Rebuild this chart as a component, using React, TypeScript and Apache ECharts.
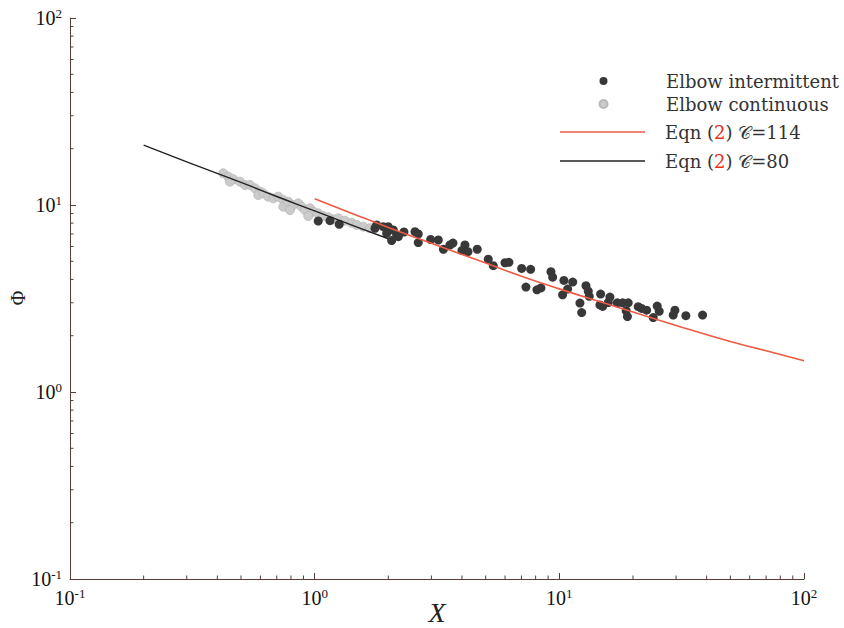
import React, { useEffect, useRef } from 'react';
import * as echarts from 'echarts';

// Elbow intermittent (dark points)
const intermittentX = [1.034, 1.155, 1.26, 1.792, 1.764, 1.907, 1.999, 2.096, 1.969, 2.163, 2.064, 2.196, 2.317, 2.571, 2.651, 2.651, 2.979, 3.201, 3.36, 3.572, 3.675, 4.0, 4.114, 4.232, 4.618, 5.122, 5.37, 5.996, 6.223, 7.015, 7.634, 7.303, 8.1, 8.411, 9.24, 9.39, 10.44, 11.34, 10.81, 10.31, 12.14, 12.34, 12.85, 13.13, 13.25, 14.75, 14.65, 15.03, 15.85, 16.1, 17.25, 18.15, 19.12, 18.76, 18.98, 21.01, 21.69, 22.74, 24.2, 25.12, 25.6, 29.68, 29.2, 32.9, 38.5];
const intermittentY = [8.21, 8.24, 7.89, 7.82, 7.51, 7.66, 7.66, 7.35, 7.06, 6.91, 6.45, 6.77, 7.17, 7.2, 7.0, 6.3, 6.54, 6.5, 5.8, 6.11, 6.26, 5.71, 6.11, 5.63, 5.8, 5.13, 4.74, 4.91, 4.94, 4.58, 4.53, 3.64, 3.52, 3.6, 4.4, 4.11, 3.95, 3.87, 3.55, 3.31, 2.99, 2.66, 3.7, 3.46, 3.25, 3.34, 2.92, 2.87, 3.01, 3.22, 3.0, 3.0, 3.0, 2.72, 2.53, 2.86, 2.8, 2.74, 2.5, 2.88, 2.7, 2.74, 2.58, 2.56, 2.58];

// Elbow continuous (light grey points)
const continuousX = [0.423, 0.4435, 0.4649, 0.4506, 0.4952, 0.519, 0.544, 0.5702, 0.5976, 0.5882, 0.6165, 0.6461, 0.6772, 0.7098, 0.7444, 0.7444, 0.78, 0.8176, 0.7926, 0.857, 0.8849, 0.9128, 0.9567, 0.987, 0.9415, 1.034, 1.084, 1.137, 1.191, 1.249, 1.33, 1.416, 1.485, 1.58, 1.683];
const continuousY = [14.77, 14.17, 13.74, 13.32, 13.32, 12.79, 12.79, 12.28, 11.78, 11.31, 11.55, 11.08, 10.86, 11.08, 10.63, 9.79, 10.41, 10.0, 9.4, 10.21, 9.79, 9.4, 9.6, 9.21, 8.73, 9.03, 8.73, 8.6, 8.39, 8.49, 8.24, 8.04, 7.82, 7.66, 7.51];

// Eqn (2) C=114 (red curve)
const eqn114X = [1, 1.5, 2, 3, 5, 7, 10, 15, 20, 30, 50, 70, 100];
const eqn114Y = [10.8, 8.77, 7.59, 6.24, 4.89, 4.16, 3.56, 3.01, 2.68, 2.27, 1.86, 1.66, 1.47];

// Eqn (2) C=80 (black curve)
const eqn80X = [0.2, 0.3, 0.5, 0.7, 1, 1.5, 2];
const eqn80Y = [20.9, 17.0, 13.2, 11.1, 9.3, 7.6, 6.6];

// Minor tick values on both log axes
const minorTicks = [0.2, 0.3, 0.4, 0.5, 0.6, 0.7, 0.8, 0.9, 2, 3, 4, 5, 6, 7, 8, 9, 20, 30, 40, 50, 60, 70, 80, 90];

const AXIS_MIN = 0.1;
const AXIS_MAX = 100;

const xAxisName = 'X';
const yAxisName = 'Φ';
const legendNames = ['Elbow intermittent', 'Elbow continuous', 'Eqn (2) 𝒞=114', 'Eqn (2) 𝒞=80'];

const axisColor = '#5a3b35';
const serif = "'Liberation Serif', 'DejaVu Serif', serif";
const legendFont = "'DejaVu Serif', 'Liberation Serif', serif";

const dotIcon = 'path://M0,0M85,8M38.5,4a4,4 0 1,0 8,0a4,4 0 1,0 -8,0z';
const lineIcon = 'path://M0,0L85,0L85,1.6L0,1.6z';

const zip = (xs: number[], ys: number[]) => xs.map((x, i) => [x, ys[i]]);

const expLabel = (v: number) => {
  const e = Math.round(Math.log10(v));
  return `10{s|${e}}`;
};

const axisLabelStyle = {
  margin: 8,
  formatter: expLabel,
  fontSize: 20,
  fontFamily: serif,
  color: '#111',
  lineHeight: 22,
  rich: {
    s: { fontSize: 13, fontFamily: serif, color: '#111', verticalAlign: 'top' as const, lineHeight: 13 },
  },
};

export default function App() {
  const ref = useRef<HTMLDivElement>(null);
  useEffect(() => {
    const chart = echarts.init(ref.current!, null, { renderer: 'svg' });
    const legendText = {
      fontFamily: legendFont,
      fontSize: 18,
      color: '#333',
      lineHeight: 20,
      padding: [0, 0, 0, 15],
      rich: {
        r: { fontFamily: legendFont, fontSize: 18, color: '#e8321e', lineHeight: 20 },
      },
    };
    const fmt = (name: string) => name.replace('(2)', '({r|2})');
    chart.setOption({
      animation: false,
      backgroundColor: '#fff',
      grid: { left: 70, right: 40, top: 18, bottom: 49, containLabel: false, outerBoundsMode: 'none' },
      graphic: [
        {
          type: 'text',
          x: 437,
          y: 612,
          style: {
            text: xAxisName,
            fontFamily: serif,
            fontStyle: 'italic',
            fontSize: 28,
            fill: '#222',
            align: 'center',
            verticalAlign: 'middle',
          },
        },
        {
          type: 'text',
          x: 18,
          y: 298,
          rotation: Math.PI / 2,
          style: {
            text: yAxisName,
            fontFamily: serif,
            fontSize: 20,
            fill: '#222',
            align: 'center',
            verticalAlign: 'middle',
          },
        },
      ],
      legend: [
        {
          data: [
            { name: legendNames[0], icon: dotIcon },
            { name: legendNames[1], icon: dotIcon },
          ],
          orient: 'vertical',
          left: 560,
          top: 71,
          padding: 0,
          itemWidth: 85,
          itemHeight: 8,
          itemGap: 3,
          symbolKeepAspect: false,
          selectedMode: false,
          textStyle: legendText,
          formatter: fmt,
        },
        {
          data: [
            { name: legendNames[2], icon: lineIcon },
            { name: legendNames[3], icon: lineIcon },
          ],
          orient: 'vertical',
          left: 560,
          top: 122,
          padding: 0,
          itemWidth: 85,
          itemHeight: 1.6,
          itemGap: 9,
          symbolKeepAspect: false,
          selectedMode: false,
          textStyle: legendText,
          formatter: fmt,
        },
      ],
      xAxis: {
        type: 'log',
        logBase: 10,
        min: AXIS_MIN,
        max: AXIS_MAX,
        axisLine: { show: true, lineStyle: { color: axisColor, width: 1 } },
        axisTick: { show: true, inside: true, length: 6, lineStyle: { color: axisColor } },
        axisLabel: axisLabelStyle,
        splitLine: { show: false },
      },
      yAxis: {
        type: 'log',
        logBase: 10,
        min: AXIS_MIN,
        max: AXIS_MAX,
        axisLine: { show: true, lineStyle: { color: axisColor, width: 1 } },
        axisTick: { show: true, inside: true, length: 6, lineStyle: { color: axisColor } },
        axisLabel: axisLabelStyle,
        splitLine: { show: false },
      },
      series: [
        {
          type: 'custom',
          name: 'xminor',
          silent: true,
          clip: false,
          data: minorTicks.map((v) => [v, AXIS_MIN]),
          renderItem: (params: any, api: any) => {
            const p = api.coord([api.value(0), AXIS_MIN]);
            return {
              type: 'line',
              shape: { x1: p[0], y1: p[1], x2: p[0], y2: p[1] - 3.5 },
              style: { stroke: axisColor, lineWidth: 1 },
            };
          },
        },
        {
          type: 'custom',
          name: 'yminor',
          silent: true,
          clip: false,
          data: minorTicks.map((v) => [AXIS_MIN, v]),
          renderItem: (params: any, api: any) => {
            const p = api.coord([AXIS_MIN, api.value(1)]);
            return {
              type: 'line',
              shape: { x1: p[0], y1: p[1], x2: p[0] + 3.5, y2: p[1] },
              style: { stroke: axisColor, lineWidth: 1 },
            };
          },
        },
        {
          type: 'scatter',
          name: legendNames[1],
          data: zip(continuousX, continuousY),
          symbol: 'circle',
          symbolSize: 9,
          itemStyle: { color: '#cbcbcb', borderColor: '#b8b8b8', borderWidth: 0.8, opacity: 1 },
          z: 2,
        },
        {
          type: 'scatter',
          name: legendNames[0],
          data: zip(intermittentX, intermittentY),
          symbol: 'circle',
          symbolSize: 9,
          itemStyle: { color: '#383838', opacity: 1 },
          z: 3,
        },
        {
          type: 'line',
          name: legendNames[2],
          data: zip(eqn114X, eqn114Y),
          symbol: 'none',
          smooth: true,
          lineStyle: { color: '#ef5a43', width: 1.6 },
          itemStyle: { color: '#ef5a43' },
          z: 4,
        },
        {
          type: 'line',
          name: legendNames[3],
          data: zip(eqn80X, eqn80Y),
          symbol: 'none',
          smooth: true,
          lineStyle: { color: '#222222', width: 1.4 },
          itemStyle: { color: '#222222' },
          z: 4,
        },
      ],
    });
    return () => chart.dispose();
  }, []);
  return (
    <div
      ref={ref}
      style={{ position: 'absolute', left: 0, top: 0, width: 844, height: 628, background: '#fff' }}
    />
  );
}
